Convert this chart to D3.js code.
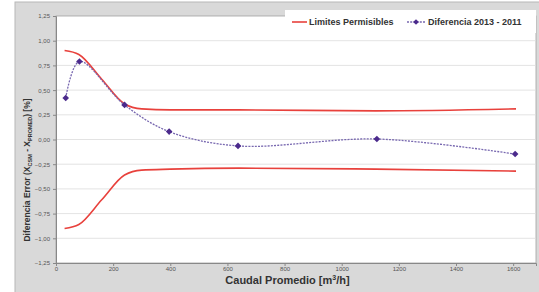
<!DOCTYPE html>
<html><head><meta charset="utf-8">
<script src="https://cdn.jsdelivr.net/npm/d3@7"></script>
<style>body{margin:0;background:#fff;}svg{display:block;font-family:"Liberation Sans",Arial,sans-serif;}</style>
</head><body>
<svg id="c" width="539" height="292"></svg>
<script>
const xTicks = [0,200,400,600,800,1000,1200,1400,1600];
const yTicks = [1.25,1.0,0.75,0.5,0.25,0,-0.25,-0.5,-0.75,-1.0,-1.25];
const limitX = [30,80,160,240,300,400,640,1120,1610];
const limitUpper = [0.90,0.86,0.61,0.36,0.31,0.30,0.30,0.29,0.31];
const limitLower = [-0.90,-0.86,-0.61,-0.36,-0.31,-0.30,-0.29,-0.30,-0.32];
const diffX = [34,82,240,396,637,1123,1607];
const diffY = [0.42,0.79,0.35,0.08,-0.065,0.005,-0.147];

const svg = d3.select("#c");
const L=56,R=536,T=16,B=263;
svg.append("rect").attr("x",15).attr("y",2).attr("width",530).attr("height",295).attr("fill","#d9d9d9").attr("stroke","#b8b8b8");
svg.append("rect").attr("x",L).attr("y",T).attr("width",R-L).attr("height",B-T).attr("fill","#fff").attr("stroke","#a0a0a0").attr("stroke-width",0.8);

const x = d3.scaleLinear().domain([0,1680]).range([L,R]);
const y = d3.scaleLinear().domain([-1.25,1.25]).range([B,T]);

svg.append("g").selectAll("line").data(yTicks.slice(1,-1)).join("line")
  .attr("x1",L).attr("x2",R).attr("y1",d=>y(d)).attr("y2",d=>y(d))
  .attr("stroke","#dcdcdc").attr("stroke-width",0.8);

const fmt = d=> d3.format(".2f")(d).replace(".",",");
const ya = svg.append("g").attr("transform",`translate(${L},0)`)
  .call(d3.axisLeft(y).tickValues(yTicks).tickFormat(fmt).tickSize(3).tickPadding(3));
const xa = svg.append("g").attr("transform",`translate(0,${B})`)
  .call(d3.axisBottom(x).tickValues(xTicks).tickFormat(d3.format("d")).tickSize(3).tickPadding(1));
[ya,xa].forEach(g=>{
  g.select(".domain").attr("stroke","#888");
  g.selectAll(".tick line").attr("stroke","#888");
  g.selectAll("text").attr("fill","#555").attr("font-size",6).attr("font-family","Liberation Sans, Arial, sans-serif");
});

const upper = limitX.map((v,i)=>[v,limitUpper[i]]);
const lower = limitX.map((v,i)=>[v,limitLower[i]]);
const diff = diffX.map((v,i)=>[v,diffY[i]]);
const line = d3.line().x(d=>x(d[0])).y(d=>y(d[1])).curve(d3.curveMonotoneX);
const dline = d3.line().x(d=>x(d[0])).y(d=>y(d[1])).curve(d3.curveCatmullRom.alpha(0.5));
[upper,lower].forEach(dt=>svg.append("path").attr("d",line(dt)).attr("fill","none").attr("stroke","#e8413c").attr("stroke-width",1.6));
svg.append("path").attr("d",dline(diff)).attr("fill","none").attr("stroke","#7868b0").attr("stroke-width",1.3).attr("stroke-dasharray","2,1.2");
const sym = d3.symbol().type(d3.symbolSquare).size(22);
svg.append("g").selectAll("path").data(diff).join("path")
  .attr("transform",d=>`translate(${x(d[0])},${y(d[1])}) rotate(45)`).attr("d",sym).attr("fill","#4b2a8c");

// legend
const lg = svg.append("g");
lg.append("rect").attr("x",285).attr("y",10).attr("width",251).attr("height",23).attr("fill","#fff");
lg.append("line").attr("x1",292).attr("x2",307).attr("y1",22).attr("y2",22).attr("stroke","#e8413c").attr("stroke-width",1.6);
lg.append("text").attr("x",309).attr("y",25).attr("font-size",9).attr("font-weight","bold").attr("fill","#333").text("Limites Permisibles");
lg.append("line").attr("x1",407).attr("x2",425).attr("y1",22).attr("y2",22).attr("stroke","#7868b0").attr("stroke-width",1.3).attr("stroke-dasharray","2,1.2");
lg.append("path").attr("transform","translate(416,22) rotate(45)").attr("d",d3.symbol().type(d3.symbolSquare).size(16)).attr("fill","#4b2a8c");
lg.append("text").attr("x",428).attr("y",25).attr("font-size",9).attr("font-weight","bold").attr("fill","#333").text("Diferencia 2013 - 2011");

// titles
svg.append("text").attr("x",287.5).attr("y",284).attr("text-anchor","middle").attr("font-size",11).attr("font-weight","bold").attr("fill","#333")
  .html('Caudal Promedio [m<tspan font-size="7" dy="-4">3</tspan><tspan dy="4">/h]</tspan>');
const yt = svg.append("text").attr("transform","translate(30,170) rotate(-90)").attr("text-anchor","middle").attr("font-size",8.5).attr("font-weight","bold").attr("fill","#333");
yt.html('Diferencia Error (X<tspan font-size="5.5" dy="2">CSM</tspan><tspan dy="-2"> - X</tspan><tspan font-size="5.5" dy="2">PROMED</tspan><tspan dy="-2">) [%]</tspan>');
</script>
</body></html>
